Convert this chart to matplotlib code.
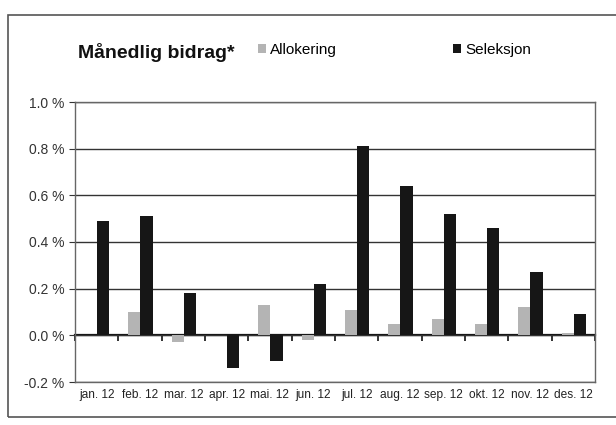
import matplotlib
matplotlib.use('Agg')
import matplotlib.pyplot as plt
import numpy as np
from matplotlib.patches import Rectangle

plt.rcParams['font.family'] = ['Liberation Sans', 'DejaVu Sans']

months = ['jan. 12', 'feb. 12', 'mar. 12', 'apr. 12', 'mai. 12', 'jun. 12',
          'jul. 12', 'aug. 12', 'sep. 12', 'okt. 12', 'nov. 12', 'des. 12']
allokering = [0.0, 0.10, -0.03, 0.0, 0.13, -0.02, 0.11, 0.05, 0.07, 0.05, 0.12, 0.01]
seleksjon = [0.49, 0.51, 0.18, -0.14, -0.11, 0.22, 0.81, 0.64, 0.52, 0.46, 0.27, 0.09]
yticks = [-0.2, 0.0, 0.2, 0.4, 0.6, 0.8, 1.0]

fig = plt.figure(figsize=(6.16, 4.25), dpi=100)
fig.patches.append(Rectangle((8 / 616, 0.02), 1.2, (425 - 15) / 425 - 0.02,
                             transform=fig.transFigure, fill=False,
                             edgecolor='#555555', linewidth=1.2))

ax = fig.add_axes([75 / 616, 1 - 382 / 425, 520 / 616, 280 / 425])
x = np.arange(len(months))
w = 0.28
b1 = ax.bar(x - 0.13, allokering, width=w, color='#b4b4b4', zorder=3, label='Allokering')
b2 = ax.bar(x + 0.15, seleksjon, width=w, color='#161616', zorder=3, label='Seleksjon')

ax.set_xlim(-0.5, len(months) - 0.5)
ax.set_ylim(-0.2, 1.0)
ax.set_yticks(yticks)
ax.set_yticklabels([f'{v:.1f} %' for v in yticks], fontsize=10, color='#333333')
ax.yaxis.grid(True, color='#333333', linewidth=1.0, zorder=0)
ax.set_xticks(x)
ax.set_xticklabels(months, fontsize=8.6, color='#222222')
ax.tick_params(axis='x', length=0, pad=5)
ax.tick_params(axis='y', length=4, color='#333333')
for s in ax.spines.values():
    s.set_color('#666666')
    s.set_linewidth(1.0)

# zero line with category boundary ticks
zero = ax.secondary_xaxis(0.2 / 1.2)
zero.set_xticks(np.arange(len(months) + 1) - 0.5)
zero.tick_params(axis='x', length=4, width=1.2, color='#111111', labelbottom=False)
zero.spines['bottom'].set_color('#111111')
zero.spines['bottom'].set_linewidth(1.6)

fig.text(78 / 616, 1 - 52 / 425, 'Månedlig bidrag*', fontsize=14, fontweight='bold',
         va='center', ha='left', color='#111111')
fig.legend(handles=[b1, b2], loc='center left', bbox_to_anchor=(258 / 616, 1 - 50 / 425),
           ncol=2, frameon=False, fontsize=11, handlelength=0.5, handleheight=0.5,
           handletextpad=0.3, columnspacing=7.6, borderpad=0, borderaxespad=0)

fig.savefig('out.png', dpi=100)
